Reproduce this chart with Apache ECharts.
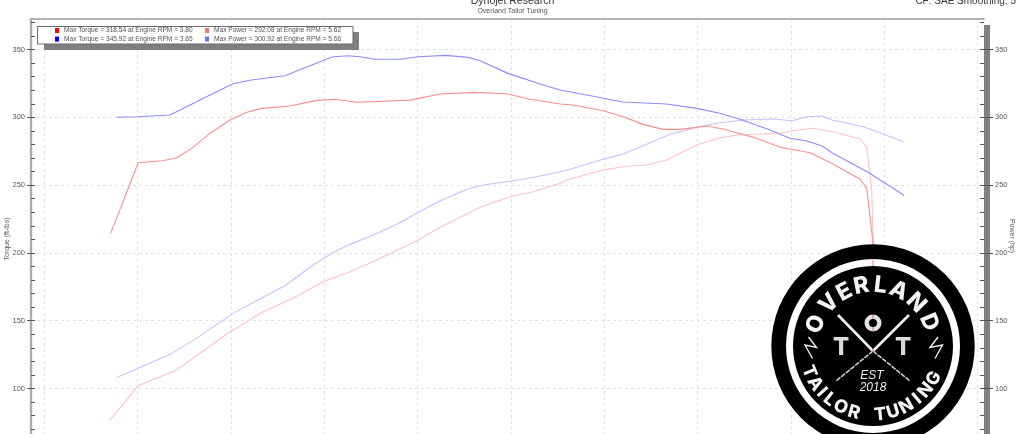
<!DOCTYPE html>
<html><head><meta charset="utf-8">
<style>html,body{margin:0;padding:0;background:#fff;overflow:hidden}#c{width:1024px;height:434px}</style>
<script src="https://cdn.jsdelivr.net/npm/echarts@6/dist/echarts.min.js"></script>
</head><body><div id="c"></div>
<script>
const names = [
  'Max Torque = 318.54 at Engine RPM = 3.80',
  'Max Power = 292.08 at Engine RPM = 5.62',
  'Max Torque = 345.92 at Engine RPM = 3.65',
  'Max Power = 300.92 at Engine RPM = 5.66'
];
const torqueARpm = [1.859,2.006,2.138,2.211,2.291,2.389,2.496,2.585,2.665,2.816,2.958,3.056,3.172,3.456,3.616,3.794,3.972,4.096,4.257,4.326,4.486,4.593,4.700,4.806,4.897,5.040,5.126,5.306,5.431,5.591,5.713,5.858,5.893,5.927,5.927];
const torqueAVal = [214.4,266.5,268.0,270.2,277.1,288.2,298.0,303.7,306.6,308.3,312.5,313.3,311.1,312.7,317.2,318.4,317.4,313.3,309.8,309.1,304.9,300.4,294.8,291.1,291.1,293.6,291.4,284.5,277.9,273.9,265.6,254.3,247.6,207.3,165.2];
const powerARpm = [1.855,2.005,2.211,2.298,2.496,2.672,2.832,2.992,3.136,3.279,3.492,3.616,3.830,3.990,4.113,4.257,4.292,4.486,4.613,4.719,4.826,4.986,5.093,5.200,5.431,5.500,5.600,5.713,5.858,5.893,5.920,5.927,5.927];
const powerAVal = [76.7,102.0,113.6,122.3,141.9,156.6,166.5,178.7,186.1,194.7,209.0,218.9,233.6,241.4,245.1,251.3,253.7,261.1,263.9,264.8,268.5,279.6,284.4,286.9,288.2,290.1,291.9,289.4,284.0,278.3,246.4,207.3,165.2];
const torqueBRpm = [1.891,2.006,2.176,2.389,2.512,2.608,2.789,3.040,3.120,3.189,3.269,3.403,3.499,3.648,3.766,3.830,3.979,4.150,4.257,4.449,4.486,4.593,4.826,4.986,5.110,5.217,5.377,5.484,5.575,5.655,5.708,5.895,5.980,6.092];
const torqueBVal = [300.0,300.4,301.7,316.4,324.8,327.5,330.7,344.5,345.4,344.7,342.8,342.8,344.7,345.7,344.2,341.7,332.4,324.5,320.1,315.2,314.0,311.3,309.8,306.6,303.0,298.5,290.6,284.5,282.5,278.8,273.9,259.9,252.5,242.5];
const powerBRpm = [1.891,2.006,2.185,2.325,2.512,2.638,2.789,2.939,3.038,3.136,3.260,3.403,3.495,3.616,3.759,3.847,3.990,4.132,4.292,4.486,4.593,4.719,4.844,4.986,5.093,5.233,5.393,5.495,5.575,5.655,5.708,5.767,5.874,5.980,6.092];
const powerBVal = [108.2,114.9,125.9,137.7,155.4,164.7,175.8,191.1,199.7,206.3,213.2,222.3,229.6,238.3,246.9,250.1,252.8,256.2,260.9,269.0,272.9,280.1,287.5,292.6,295.6,298.0,298.7,297.5,300.4,301.0,298.0,296.3,293.1,287.7,281.8];
const majorTicks = [50,100,150,200,250,300,350];
const minorTicks = [60,70,80,90,100,110,120,130,140,150,160,170,180,190,200,210,220,230,240,250,260,270,280,290,300,310,320,330,340,350,360,370];
const gridRpm = [1.503,2.003,2.501,2.999,3.497,3.995,4.493,4.990,5.488,5.986,6.484];

const zip = (a, b) => a.map((v, i) => [v, b[i]]);
const AX = 1.434, AXR = 6.519, YMIN = 50, YMAX = 372.5;
const F = '"Liberation Sans", sans-serif';
const LOGOF = 'Inter, "Liberation Sans", sans-serif';
const GREY = '#5a5560';

const cx = 873, cy = 346;
const Z = 100;
function arcText(str, r, degs, size, lower) {
  return str.split('').map((ch, i) => {
    const a = degs[i] * Math.PI / 180;
    const x = cx + r * Math.sin(a);
    const y = lower ? cy + r * Math.cos(a) : cy - r * Math.cos(a);
    return { type: 'text', z: Z + 3, x, y, rotation: lower ? a : -a, originX: 0, originY: 0,
      style: { text: ch, fill: '#f4f4f4', font: `800 ${size}px ${LOGOF}`, align: 'center', verticalAlign: 'middle' } };
  });
}
const logoText = (text, x, y, font, fill) => ({ type: 'text', z: Z + 3, x, y,
  style: { text, fill: fill || '#ececec', font, align: 'center', verticalAlign: 'middle' } });
const logoLine = (x1, y1, x2, y2, w, extra) => ({ type: 'line', z: Z + 2,
  shape: { x1, y1, x2, y2 }, style: Object.assign({ stroke: '#efefef', lineWidth: w }, extra || {}) });
const bolt = pts => ({ type: 'polyline', z: Z + 2, shape: { points: pts }, style: { stroke: '#eee', lineWidth: 1.4, fill: null } });

const graphic = [
  { type: 'rect', z: -2, shape: { x: 984, y: 25, width: 6, height: 420 }, style: { fill: '#808080' } },
  { type: 'rect', z: 20, shape: { x: 44, y: 32, width: 315, height: 18 }, style: { fill: '#7f7f7f' } },
  { type: 'rect', z: 21, shape: { x: 37.5, y: 26.5, width: 315.5, height: 17.5 }, style: { fill: '#fff', stroke: '#6a6a6a', lineWidth: 1 } },
  { type: 'text', z: 5, x: 7, y: 239, rotation: Math.PI / 2, style: { text: 'Torque (ft-lbs)', font: `7px ${F}`, fill: GREY, align: 'center', verticalAlign: 'middle' } },
  { type: 'text', z: 5, x: 1012, y: 236, rotation: -Math.PI / 2, style: { text: 'Power (hp)', font: `7px ${F}`, fill: GREY, align: 'center', verticalAlign: 'middle' } },
  { type: 'circle', z: Z, shape: { cx, cy, r: 101.7 }, style: { fill: '#000' } },
  { type: 'ring', z: Z + 1, shape: { cx, cy, r: 87, r0: 80 }, style: { fill: '#fff' } },
  { type: 'ring', z: Z + 1, shape: { cx, cy: 323, r: 8.5, r0: 4 }, style: { fill: '#e4e4e4' } },
  logoLine(838, 315, 873, 351, 2.6), logoLine(909, 315, 873, 351, 2.6),
  logoLine(873, 351, 910, 381, 1.6, { lineDash: [5, 1], stroke: '#ccc' }),
  logoLine(873, 351, 836, 381, 1.6, { lineDash: [5, 1], stroke: '#ccc' }),
  bolt([[808.5, 337], [816.5, 347.5], [805, 345], [812.5, 358.5]]),
  bolt([[938, 337], [930, 347.5], [942.5, 345], [935, 358.5]]),
  logoText('T', 841, 348, `800 24px ${LOGOF}`, '#dcdcdc'),
  logoText('T', 903, 348, `800 24px ${LOGOF}`, '#dcdcdc'),
  logoText('EST', 872, 376, `italic 12px ${F}`),
  logoText('2018', 873, 388, `italic 12px ${F}`),
  ...arcText('OVERLAND', 61, [-69, -46, -28, -11, 7, 25, 45, 67], 23, false),
  ...arcText('TAILOR TUNING', 69, [-68, -57, -48, -39, -28, -16, -5, 6, 17, 29, 40, 50, 62], 18, true),
  { type: 'line', z: Z + 10, shape: { x1: 873, y1: 245, x2: 873, y2: 352 },
    style: { stroke: '#ff8f8f', lineWidth: 1.2, blend: 'multiply' } }
];

const line = (i, data, color) => ({ name: names[i], type: 'line', data, symbol: 'none', yAxisIndex: i % 2 ? 2 : 0,
  lineStyle: { color, width: 1.1 }, itemStyle: { color }, animation: false, clip: false, z: 3 });
const legendCol = (left, a, b, ca, cb) => ({ left, top: 27, orient: 'vertical', itemGap: 1.6, itemWidth: 4, itemHeight: 5, icon: 'rect',
  padding: 0, selectedMode: false, z: 30, textStyle: { fontSize: 6.6, fontFamily: F, color: '#55505a', lineHeight: 7, height: 7 },
  data: [{ name: a, itemStyle: { color: ca } }, { name: b, itemStyle: { color: cb } }] });
const yBase = { type: 'value', min: YMIN, max: YMAX, scale: false };
const hidden = { show: false };

const chart = echarts.init(document.getElementById('c'), null, { renderer: 'canvas' });
chart.setOption({
  animation: false,
  backgroundColor: '#fff',
  title: [
    { text: 'Dynojet Research', left: 512.5, top: -4, textAlign: 'center', padding: 0, textStyle: { fontSize: 10.5, fontWeight: 'normal', fontFamily: F, color: '#333' } },
    { text: 'Overland Tailor Tuning', left: 512.5, top: 8, textAlign: 'center', padding: 0, textStyle: { fontSize: 7, fontWeight: 'normal', fontFamily: F, color: '#555' } },
    { text: 'CF: SAE Smoothing: 5', right: 8, top: -4, padding: 0, textStyle: { fontSize: 10, fontWeight: 'normal', fontFamily: F, color: '#333' } }
  ],
  legend: [legendCol(55, names[0], names[2], '#ff0000', '#0000ff'), legendCol(205, names[1], names[3], '#ff7070', '#7070ff')],
  grid: { left: 31, top: 19, width: 953, height: (YMAX - YMIN) * 1.356, outerBoundsMode: 'none' },
  xAxis: { type: 'value', position: 'top', min: AX, max: AXR,
    axisLine: { show: true, onZero: false, lineStyle: { color: '#b4b4b4', width: 2 } },
    axisLabel: hidden,
    axisTick: { show: false, customValues: gridRpm },
    splitLine: { show: true, lineStyle: { color: '#e2e2e2', type: [3, 3], width: 1 } } },
  yAxis: [
    Object.assign({}, yBase, { position: 'left',
      axisLine: { show: true, onZero: false, lineStyle: { color: '#ababab', width: 2.4 } },
      axisTick: { show: true, length: 4, customValues: majorTicks, lineStyle: { color: '#555' } },
      axisLabel: { show: true, margin: 6, fontSize: 7.5, fontFamily: F, color: GREY, customValues: majorTicks },
      splitLine: { show: true, lineStyle: { color: '#e2e2e2', type: [3, 3], width: 1 } } }),
    Object.assign({}, yBase, { position: 'left', axisLine: { show: false }, axisLabel: hidden, splitLine: hidden,
      axisTick: { show: true, inside: true, length: 4, customValues: minorTicks, lineStyle: { color: '#555' } } }),
    Object.assign({}, yBase, { position: 'right', axisLine: { show: false }, splitLine: hidden,
      axisTick: { show: true, length: 9, customValues: majorTicks, lineStyle: { color: '#555' } },
      axisLabel: { show: true, margin: 11, fontSize: 7.5, fontFamily: F, color: GREY, customValues: majorTicks } }),
    Object.assign({}, yBase, { position: 'right', axisLine: { show: false }, axisLabel: hidden, splitLine: hidden,
      axisTick: { show: true, inside: true, length: 4, customValues: minorTicks, lineStyle: { color: '#555' } } })
  ],
  series: [
    line(3, zip(powerBRpm, powerBVal), '#c2c2ff'),
    line(1, zip(powerARpm, powerAVal), '#ffc2c2'),
    line(2, zip(torqueBRpm, torqueBVal), '#8c8cff'),
    line(0, zip(torqueARpm, torqueAVal), '#ff8c8c')
  ],
  graphic
});
</script></body></html>
